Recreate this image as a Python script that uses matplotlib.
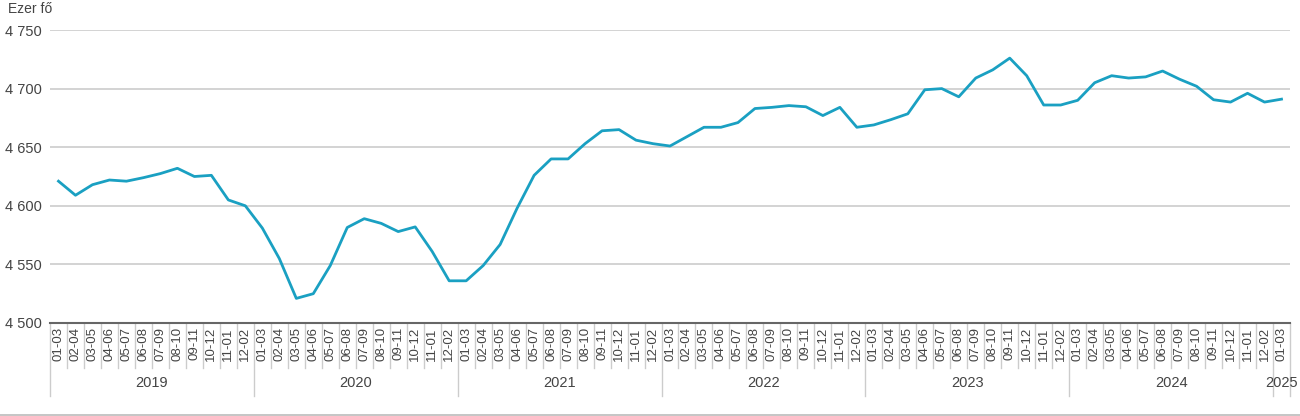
import matplotlib
matplotlib.use('Agg')
import matplotlib.pyplot as plt
import matplotlib.transforms as mtransforms
from matplotlib.lines import Line2D

plt.rcParams['font.family'] = ['Liberation Sans', 'DejaVu Sans']

# Data: employed persons (thousand), 3-month moving periods
years = ['2019', '2020', '2021', '2022', '2023', '2024', '2025']
periods = ['01-03', '02-04', '03-05', '04-06', '05-07', '06-08',
           '07-09', '08-10', '09-11', '10-12', '11-01', '12-02']
months_per_year = [12, 12, 12, 12, 12, 12, 1]

values = [
    4621, 4609, 4618, 4622, 4621, 4624, 4627.5, 4632, 4625, 4626, 4605, 4600,   # 2019
    4581, 4555, 4521, 4525, 4549, 4581.5, 4589, 4585, 4578, 4582, 4561, 4536,   # 2020
    4536, 4549, 4567, 4598, 4626, 4640, 4640, 4653, 4664, 4665, 4656, 4653,     # 2021
    4651, 4659, 4667, 4667, 4671, 4683, 4684, 4685.5, 4684.5, 4677, 4684, 4667, # 2022
    4669, 4673.5, 4678.5, 4699, 4700, 4693, 4709, 4716, 4726, 4711, 4686, 4686, # 2023
    4690, 4705, 4711, 4709, 4710, 4715, 4708, 4702, 4690.5, 4688.5, 4696, 4688.5, # 2024
    4691,                                                                        # 2025
]

labels = []
for y, n in zip(years, months_per_year):
    labels += periods[:n]
x = list(range(len(values)))

W, H = 1300, 416
fig = plt.figure(figsize=(W / 100, H / 100), dpi=100)
ax = fig.add_axes([50 / W, 93 / H, 1240 / W, 293 / H])

ax.plot(x, values, color='#1aa0c2', lw=2.0, solid_joinstyle='round', zorder=3)

ax.set_xlim(-0.5, len(values) - 0.5)
ax.set_ylim(4500, 4750)
ax.set_yticks([4500, 4550, 4600, 4650, 4700, 4750])
ax.set_yticklabels(['4 500', '4 550', '4 600', '4 650', '4 700', '4 750'])
ax.yaxis.grid(True, color='#cccccc', lw=1.2)
ax.set_axisbelow(True)
ax.tick_params(axis='y', length=0, pad=6, labelsize=10.5, labelcolor='#444444')

ax.set_xticks(x)
ax.set_xticklabels(labels, rotation=90, va='top', ha='center')
ax.tick_params(axis='x', length=0, pad=3, labelsize=9.5, labelcolor='#444444')

for s in ['top', 'right', 'left']:
    ax.spines[s].set_visible(False)
ax.spines['bottom'].set_color('#666666')
ax.spines['bottom'].set_linewidth(1.5)

# category separators and year groups
trans = mtransforms.blended_transform_factory(ax.transData, ax.transAxes)
year_bounds = [0]
for n in months_per_year:
    year_bounds.append(year_bounds[-1] + n)
for i in range(len(values) + 1):
    xb = i - 0.5
    if i in year_bounds:
        bottom = -0.25
    else:
        bottom = -0.154
    ax.add_line(Line2D([xb, xb], [0, bottom], transform=trans, color='#cccccc',
                       lw=1, clip_on=False))
for y, a, b in zip(years, year_bounds[:-1], year_bounds[1:]):
    ax.text((a + b - 1) / 2, -0.205, y, transform=trans, ha='center', va='center',
            fontsize=10.5, color='#444444')

fig.text(8 / W, 1 - 9 / H, 'Ezer fő', ha='left', va='center', fontsize=10, color='#444444')
fig.add_artist(Line2D([0, 1], [1.5 / H, 1.5 / H], transform=fig.transFigure,
                      color='#bbbbbb', lw=1.2))

fig.savefig('out.png', dpi=100)
